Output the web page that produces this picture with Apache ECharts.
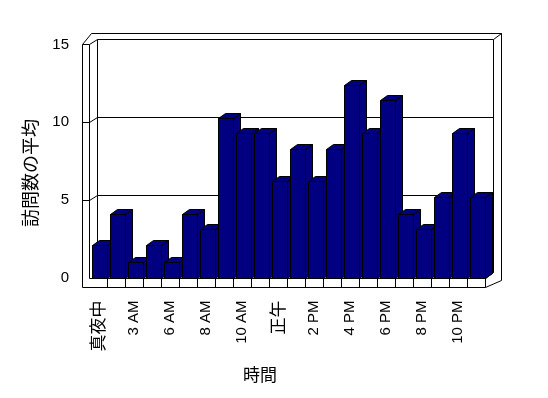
<!DOCTYPE html>
<html>
<head>
<meta charset="utf-8">
<script src="https://cdn.jsdelivr.net/npm/echarts@6/dist/echarts.min.js"></script>
<style>
html, body { margin: 0; padding: 0; background: #fff; }
#main { width: 548px; height: 398px; }
</style>
</head>
<body>
<div id="main"></div>
<script>
// 時間帯 (カテゴリ)
var hours = ['真夜中', '1 AM', '3 AM', '5 AM', '6 AM', '7 AM', '8 AM', '9 AM', '10 AM', '11 AM', '正午',
  '1 PM', '2 PM', '3 PM', '4 PM', '5 PM', '6 PM', '7 PM', '8 PM', '9 PM', '10 PM', '11 PM'];
// 訪問数の平均
var visits = [2.1, 4.1, 1.0, 2.1, 1.0, 4.1, 3.1, 10.3, 9.3, 9.3, 6.2, 8.3, 6.2, 8.3, 12.4, 9.3, 11.4, 4.1, 3.1, 5.2, 9.3, 5.2];
// 目盛り
var yTicks = [0, 5, 10, 15];

var FONT = '"Liberation Sans", "Noto Sans CJK JP", sans-serif';
var WDX = 8, WDY = -5.3;   // 壁の奥行き
var BDX = 7, BDY = -5;     // 棒の奥行き

function crisp(p) {
  return [Math.round(p[0]) + 0.5, Math.round(p[1]) + 0.5];
}
function line(list, pts) {
  list.push({
    type: 'polyline',
    shape: { points: pts.map(crisp) },
    style: { stroke: '#000', lineWidth: 1, fill: null }
  });
}
function poly(list, pts, fill) {
  list.push({
    type: 'polygon',
    shape: { points: pts.map(crisp) },
    style: { stroke: '#000', lineWidth: 1, fill: fill }
  });
}

//枠・壁・床
function renderFrame(params, api) {
  var cs = params.coordSys;
  var x0 = cs.x, x1 = cs.x + cs.width, y0 = cs.y, y1 = cs.y + cs.height;
  var bx0 = x0 + WDX, bx1 = x1 + WDX, by0 = y0 + WDY, by1 = y1 + WDY;
  var band = cs.width / hours.length;
  var c = [];
  // 外側
  line(c, [[x0 - 7, y1 + 9], [x0 - 7, y0 - 1], [x0 + 2, by0 - 6], [bx1 + 8, by0 - 6], [bx1 + 8, y1 + 2], [x1, y1 + 9], [x0 - 7, y1 + 9]]);
  // 奥の壁
  poly(c, [[bx0, by0], [bx1, by0], [bx1, by1], [bx0, by1]], '#fff');
  line(c, [[bx1, by0], [bx1 + 8, by0 - 6]]);
  // 左の壁
  line(c, [[x0 - 7, y0 - 1], [x0, y0 - 1], [bx0, by0]]);
  line(c, [[x0, y0 - 1], [x0, y1]]);
  // 目盛線
  for (var k = 1; k < yTicks.length - 1; k++) {
    var yf = api.coord([0, yTicks[k]])[1];
    line(c, [[x0 - 7, yf], [x0, yf], [bx0, yf + WDY], [bx1, yf + WDY]]);
  }
  // 床
  line(c, [[x0, y1], [x1, y1], [bx1, by1]]);
  for (var i = 1; i <= hours.length; i++) {
    var xs = x0 + band * i;
    line(c, [[xs, y1], [xs, y1 + 9]]);
  }
  return { type: 'group', children: c };
}

//棒
function renderBar(params, api) {
  var top = api.coord([api.value(0), api.value(1)]);
  var bottom = api.coord([api.value(0), 0]);
  var bw = api.size([1, 0])[0];
  var l = top[0] - bw / 2 + bw * 0.15;
  var r = l + bw * 0.83;
  var t = top[1], b = bottom[1];
  var c = [];
  poly(c, [[r, t], [r + BDX, t + BDY], [r + BDX, b + BDY], [r, b]], '#000080');
  poly(c, [[l, t], [l + BDX, t + BDY], [r + BDX, t + BDY], [r, t]], '#000080');
  poly(c, [[l, t], [r, t], [r, b], [l, b]], '#000080');
  return { type: 'group', children: c };
}

const chart = echarts.init(document.getElementById('main'));
chart.setOption({
  backgroundColor: '#fff',
  animation: false,
  grid: { left: 89, right: 63, top: 44.5, bottom: 120.5 },
  xAxis: {
    type: 'category',
    data: hours,
    axisLine: { show: false },
    axisTick: { show: false },
    axisLabel: {
      interval: 1,
      rotate: 90,
      margin: 23,
      color: '#000',
      fontSize: 15,
      fontFamily: FONT,
      formatter: function (v) {
        return /[^\x00-\x7f]/.test(v) ? '{j|' + v + '}' : v;
      },
      rich: { j: { fontSize: 17, fontFamily: '"Noto Sans CJK JP"', color: '#000' } }
    }
  },
  yAxis: {
    type: 'value',
    min: yTicks[0],
    max: yTicks[yTicks.length - 1],
    interval: 5,
    axisLine: { show: false },
    axisTick: { show: false },
    splitLine: { show: false },
    axisLabel: { margin: 20, color: '#000', fontSize: 15, fontFamily: FONT }
  },
  graphic: [
    {
      type: 'text', x: 30, y: 173, rotation: Math.PI / 2,
      style: { text: '訪問数の平均', font: '18px "Noto Sans CJK JP"', fill: '#000', align: 'center', verticalAlign: 'middle' }
    },
    {
      type: 'text', x: 260, y: 375,
      style: { text: '時間', font: '17px "Noto Sans CJK JP"', fill: '#000', align: 'center', verticalAlign: 'middle' }
    }
  ],
  series: [
    {
      type: 'custom',
      silent: true,
      renderItem: renderFrame,
      data: [[0, 0]],
      z: 1
    },
    {
      type: 'custom',
      name: '訪問数の平均',
      renderItem: renderBar,
      data: visits.map(function (v, i) { return [i, v]; }),
      z: 2
    }
  ]
});
</script>
</body>
</html>
